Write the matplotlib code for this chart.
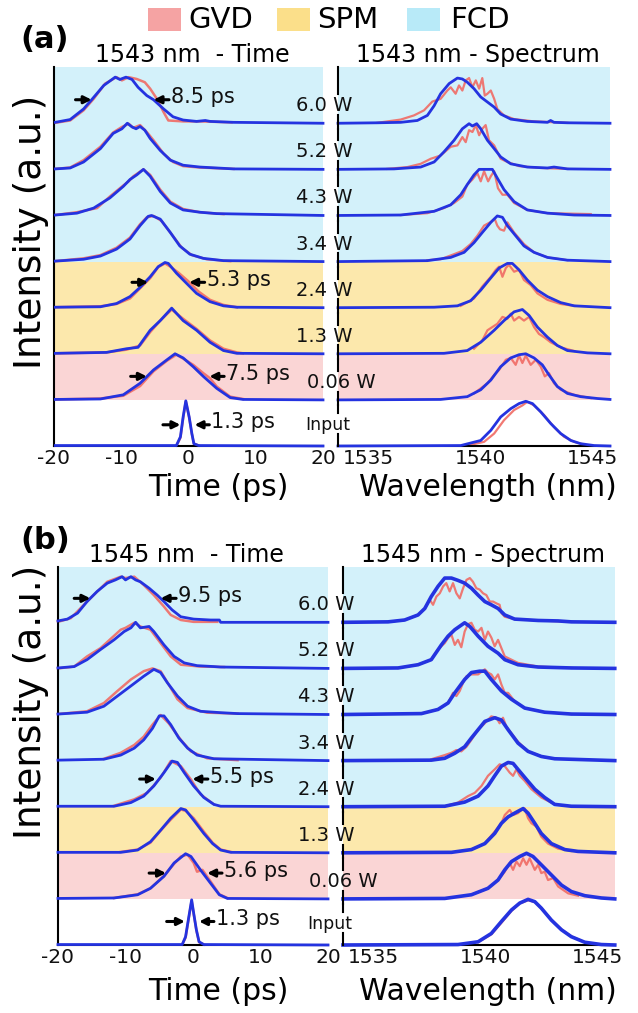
import matplotlib
matplotlib.use("Agg")
import matplotlib.pyplot as plt
from matplotlib.patches import Rectangle

plt.rcParams['font.family'] = ['DejaVu Sans']

W_PX, H_PX = 638, 1013

powers = ["Input", "0.06 W", "1.3 W", "2.4 W", "3.4 W", "4.3 W", "5.2 W", "6.0 W"]
time_ticks = [-20, -10, 0, 10, 20]
time_ticklabels = ["-20", "-10", "0", "10", "20"]
wl_ticks = [1535, 1540, 1545]
legend_labels = ["GVD", "SPM", "FCD"]

# ---------------- (a) 1543 nm, time domain (rows: Input ... 6.0 W) ----------------
a_t_blue_x = [
    [-19.8, -1.8, -1.2, -0.8, -0.4, 0.1, 0.5, 0.8, 1.5, 20],
    [-19.8, -13.1, -9.7, -7.2, -5.2, -3.2, -2.0, -0.8, 0.7, 2.2, 4.2, 6.2, 8.1, 20],
    [-19.8, -12.2, -9.2, -7.5, -5.7, -4.2, -2.5, -0.8, 1.2, 3.2, 5.2, 7.2, 20],
    [-19.8, -13.1, -10.7, -8.7, -7.2, -5.7, -4.5, -3.5, -3.0, -1.8, -0.3, 1.2, 3.2, 5.2, 7.2, 20],
    [-19.8, -15.6, -13.1, -10.7, -8.7, -7.2, -6.0, -5.5, -4.2, -2.7, -1.3, 0.2, 2.2, 5.2, 20],
    [-19.8, -16.6, -14.1, -11.7, -9.7, -8.7, -7.7, -6.7, -5.7, -4.2, -2.7, -0.8, 1.7, 4.2, 20],
    [-19.8, -17.6, -15.6, -13.1, -11.2, -9.9, -9.1, -8.4, -7.8, -7.2, -6.5, -5.7, -4.2, -2.7, -0.8, 1.7, 4.2, 6.7, 20],
    [-19.8, -17.6, -15.6, -14.4, -12.6, -10.9, -10.2, -9.3, -8.4, -7.5, -6.2, -5.2, -3.7, -2.3, -0.8, 1.2, 2.5, 3.2, 6.7, 20],
]
a_t_blue_y = [
    [0.01, 0.01, 0.2, 0.63, 0.98, 0.63, 0.27, 0.05, 0.01, 0],
    [0.01, 0.02, 0.11, 0.36, 0.65, 0.87, 1.0, 0.91, 0.72, 0.51, 0.25, 0.05, 0.01, 0],
    [0.01, 0.03, 0.11, 0.14, 0.51, 0.72, 0.99, 0.72, 0.51, 0.25, 0.07, 0.01, 0],
    [0.01, 0.02, 0.09, 0.24, 0.44, 0.67, 0.89, 0.98, 0.96, 0.75, 0.53, 0.31, 0.13, 0.04, 0.01, 0],
    [0.01, 0.05, 0.12, 0.27, 0.49, 0.78, 0.98, 1.0, 0.92, 0.63, 0.34, 0.16, 0.07, 0.02, 0],
    [0.01, 0.05, 0.16, 0.38, 0.63, 0.78, 0.88, 1.0, 0.85, 0.52, 0.27, 0.12, 0.07, 0.04, 0],
    [0.01, 0.03, 0.16, 0.45, 0.78, 0.88, 1.0, 0.92, 0.88, 0.93, 0.85, 0.67, 0.41, 0.2, 0.09, 0.05, 0.03, 0.01, 0],
    [0.02, 0.08, 0.31, 0.51, 0.82, 1.0, 0.95, 1.0, 0.95, 0.78, 0.6, 0.51, 0.31, 0.14, 0.07, 0.04, 0.06, 0.04, 0.02, 0],
]
a_t_red_x = [
    [-1.8, -1.2, -0.8, -0.4, 0.1, 0.5, 0.8, 1.5],
    [-19.8, -13.1, -9.7, -7.2, -5.2, -3.2, -1.8, -0.5, 0.7, 2.2, 3.2, 4.2, 6.2, 8.1],
    [-19.8, -12.2, -9.2, -7.2, -5.7, -4.2, -2.5, -0.8, 1.2, 3.2, 5.2, 7.2, 8.1],
    [-19.8, -13.1, -10.7, -8.7, -7.2, -5.7, -4.5, -3.5, -2.7, -1.5, 0.0, 1.5, 3.2, 5.2, 7.2],
    [-19.8, -15.6, -13.1, -10.7, -8.7, -7.2, -6.2, -5.2, -4.0, -2.5, -1.0, 0.5, 2.7, 6.2],
    [-19.8, -16.6, -13.6, -11.7, -9.7, -8.9, -8.2, -7.5, -6.7, -5.7, -4.2, -2.7, -0.8, 1.7, 5.2],
    [-19.8, -17.6, -15.6, -13.1, -11.2, -9.9, -8.9, -8.2, -7.2, -6.2, -5.2, -3.7, -2.3, -0.8, 1.7, 6.7],
    [-19.8, -17.6, -15.6, -14.1, -12.4, -10.7, -9.9, -8.9, -7.7, -6.5, -5.7, -4.7, -3.7, -3.0, -0.8, 1.7, 6.4],
]
a_t_red_y = [
    [0.01, 0.18, 0.6, 0.97, 0.62, 0.26, 0.05, 0.01],
    [0.01, 0.03, 0.09, 0.3, 0.62, 0.85, 0.98, 0.87, 0.76, 0.58, 0.47, 0.29, 0.07, 0.02],
    [0.01, 0.03, 0.09, 0.18, 0.47, 0.72, 0.96, 0.76, 0.54, 0.29, 0.11, 0.03, 0.01],
    [0.01, 0.03, 0.08, 0.2, 0.42, 0.64, 0.88, 0.96, 0.89, 0.76, 0.57, 0.35, 0.17, 0.06, 0.01],
    [0.01, 0.07, 0.14, 0.3, 0.52, 0.81, 0.96, 0.99, 0.88, 0.59, 0.3, 0.14, 0.05, 0.01],
    [0.01, 0.07, 0.16, 0.41, 0.65, 0.74, 0.85, 0.92, 1.0, 0.88, 0.56, 0.3, 0.14, 0.07, 0.03],
    [0.01, 0.04, 0.2, 0.49, 0.8, 0.92, 0.99, 0.9, 0.96, 0.81, 0.63, 0.34, 0.16, 0.07, 0.04, 0.01],
    [0.01, 0.06, 0.28, 0.53, 0.86, 1.0, 0.93, 1.0, 0.96, 0.89, 0.75, 0.53, 0.24, 0.06, 0.04, 0.04, 0.02],
]

# ---------------- (a) 1543 nm, spectrum ----------------
a_s_blue_x = [
    [1533.66, 1539.14, 1540.03, 1540.48, 1540.92, 1541.37, 1541.74, 1542.04, 1542.34, 1542.71, 1543.15, 1543.6, 1544.05, 1544.49, 1545.09, 1545.8],
    [1533.66, 1538.24, 1539.43, 1540.03, 1540.48, 1540.92, 1541.37, 1541.74, 1542.04, 1542.41, 1542.78, 1543.08, 1543.45, 1543.9, 1544.49, 1545.24, 1545.8],
    [1533.66, 1538.39, 1539.43, 1540.03, 1540.63, 1541.07, 1541.52, 1541.89, 1542.19, 1542.56, 1543.01, 1543.45, 1543.9, 1544.79, 1545.8],
    [1533.66, 1537.95, 1538.99, 1539.58, 1540.03, 1540.4, 1540.85, 1541.22, 1541.44, 1541.74, 1542.11, 1542.56, 1543.01, 1543.6, 1544.2, 1545.8],
    [1533.66, 1537.65, 1538.69, 1539.29, 1539.73, 1540.1, 1540.48, 1540.77, 1541.0, 1541.22, 1541.59, 1541.96, 1542.41, 1543.01, 1543.9, 1545.8],
    [1533.66, 1536.46, 1537.95, 1538.69, 1539.14, 1539.43, 1539.73, 1539.96, 1540.55, 1540.77, 1541.07, 1541.52, 1542.11, 1543.01, 1544.2, 1545.8],
    [1533.66, 1536.16, 1537.35, 1537.95, 1538.39, 1538.84, 1539.21, 1539.51, 1539.66, 1539.85, 1540.03, 1540.33, 1540.63, 1540.92, 1541.37, 1542.11, 1543.01, 1543.3, 1543.9, 1545.8],
    [1533.66, 1535.42, 1536.46, 1537.2, 1537.65, 1537.95, 1538.24, 1538.62, 1538.99, 1539.21, 1539.43, 1539.73, 1540.03, 1540.33, 1540.63, 1540.92, 1541.37, 1542.11, 1543.01, 1543.15, 1543.3, 1543.9, 1545.8],
]
a_s_blue_y = [
    [0, 0.01, 0.12, 0.34, 0.63, 0.81, 0.92, 0.97, 0.92, 0.74, 0.49, 0.27, 0.12, 0.05, 0.01, 0],
    [0, 0.01, 0.07, 0.22, 0.43, 0.72, 0.91, 0.98, 1.0, 0.91, 0.76, 0.54, 0.29, 0.14, 0.07, 0.03, 0.01],
    [0, 0.01, 0.07, 0.25, 0.51, 0.72, 0.91, 0.96, 0.83, 0.58, 0.36, 0.18, 0.07, 0.02, 0],
    [0, 0.01, 0.04, 0.15, 0.38, 0.6, 0.86, 0.96, 0.96, 0.82, 0.6, 0.38, 0.24, 0.11, 0.04, 0],
    [0, 0.02, 0.09, 0.2, 0.41, 0.63, 0.85, 0.99, 0.96, 0.78, 0.56, 0.34, 0.2, 0.09, 0.03, 0],
    [0, 0.01, 0.09, 0.23, 0.45, 0.67, 0.88, 1.0, 1.0, 0.81, 0.56, 0.3, 0.12, 0.05, 0.01, 0],
    [0, 0.01, 0.05, 0.16, 0.38, 0.63, 0.88, 0.99, 0.94, 0.99, 0.88, 0.63, 0.45, 0.27, 0.12, 0.05, 0.03, 0.05, 0.01, 0],
    [0, 0.01, 0.02, 0.06, 0.17, 0.38, 0.64, 0.86, 0.98, 0.96, 0.89, 0.75, 0.57, 0.46, 0.35, 0.2, 0.09, 0.04, 0.02, 0.06, 0.02, 0.01, 0],
]
a_s_red_x = [
    [1539.43, 1540.18, 1540.63, 1541.07, 1541.52, 1541.89, 1542.11, 1542.41, 1542.86, 1543.3, 1543.75, 1544.2, 1544.79],
    [1539.73, 1540.33, 1540.63, 1540.85, 1541.0, 1541.15, 1541.37, 1541.59, 1541.74, 1541.89, 1542.04, 1542.26, 1542.49, 1542.71, 1542.89, 1543.08, 1543.3, 1543.6, 1544.2, 1544.94],
    [1539.73, 1540.1, 1540.33, 1540.55, 1540.77, 1541.0, 1541.22, 1541.37, 1541.52, 1541.74, 1541.96, 1542.19, 1542.41, 1542.63, 1542.86, 1543.15, 1543.6, 1544.2],
    [1539.14, 1539.73, 1540.1, 1540.48, 1540.7, 1540.85, 1541.0, 1541.15, 1541.29, 1541.52, 1541.74, 1541.96, 1542.26, 1542.56, 1543.01, 1543.6, 1544.2],
    [1537.65, 1538.24, 1538.84, 1539.21, 1539.58, 1539.88, 1540.18, 1540.48, 1540.65, 1540.77, 1540.89, 1541.07, 1541.22, 1541.52, 1541.96, 1542.41, 1543.01, 1543.9],
    [1536.46, 1537.65, 1538.39, 1538.84, 1539.21, 1539.43, 1539.66, 1539.88, 1540.03, 1540.18, 1540.36, 1540.48, 1540.63, 1540.8, 1541.0, 1541.22, 1541.52, 1542.11, 1543.01, 1544.94],
    [1535.86, 1536.76, 1537.35, 1537.8, 1538.24, 1538.69, 1538.99, 1539.21, 1539.36, 1539.51, 1539.66, 1539.81, 1539.96, 1540.1, 1540.25, 1540.4, 1540.63, 1540.92, 1541.22, 1541.74, 1542.71, 1543.9],
    [1535.42, 1536.46, 1537.05, 1537.5, 1537.87, 1538.24, 1538.54, 1538.69, 1538.91, 1539.06, 1539.21, 1539.36, 1539.51, 1539.66, 1539.81, 1539.96, 1540.1, 1540.21, 1540.33, 1540.48, 1540.63, 1540.77, 1541.07, 1541.52, 1542.41, 1543.9],
]
a_s_red_y = [
    [0.01, 0.09, 0.27, 0.56, 0.78, 0.88, 0.96, 0.88, 0.67, 0.41, 0.2, 0.09, 0.01],
    [0.14, 0.36, 0.54, 0.65, 0.76, 0.87, 0.91, 0.76, 0.96, 0.8, 0.96, 0.76, 0.87, 0.72, 0.51, 0.58, 0.36, 0.22, 0.11, 0.04],
    [0.11, 0.29, 0.51, 0.58, 0.65, 0.8, 0.76, 0.87, 0.72, 0.8, 0.72, 0.8, 0.58, 0.43, 0.36, 0.25, 0.14, 0.06],
    [0.04, 0.2, 0.46, 0.67, 0.82, 0.89, 0.67, 0.86, 0.93, 0.78, 0.82, 0.6, 0.49, 0.31, 0.17, 0.08, 0.04],
    [0.03, 0.05, 0.16, 0.23, 0.38, 0.56, 0.78, 0.86, 0.93, 0.78, 0.7, 0.67, 0.85, 0.63, 0.38, 0.2, 0.09, 0.03],
    [0.01, 0.05, 0.16, 0.27, 0.41, 0.67, 0.78, 0.92, 0.74, 0.96, 0.74, 0.85, 0.96, 0.59, 0.45, 0.45, 0.27, 0.12, 0.05, 0.03],
    [0.01, 0.05, 0.12, 0.23, 0.3, 0.49, 0.52, 0.7, 0.59, 0.85, 0.81, 0.96, 0.74, 0.88, 0.96, 0.63, 0.52, 0.23, 0.16, 0.07, 0.03, 0.01],
    [0.01, 0.08, 0.17, 0.28, 0.47, 0.53, 0.71, 0.78, 0.64, 0.82, 0.71, 0.93, 0.98, 0.78, 0.93, 0.75, 0.98, 0.6, 0.64, 0.71, 0.53, 0.31, 0.17, 0.09, 0.04, 0.01],
]

# ---------------- (b) 1545 nm, time domain ----------------
b_t_blue_x = [
    [-20.0, -1.6, -1.1, -0.7, -0.2, 0.1, 0.5, 0.9, 1.6, 20],
    [-20.0, -11.7, -8.2, -6.3, -4.3, -2.8, -1.1, -0.3, 1.1, 2.6, 3.9, 5.1, 20],
    [-20.0, -10.7, -8.2, -6.3, -4.8, -3.3, -1.8, -1.1, 0.1, 1.6, 2.9, 4.1, 5.6, 20],
    [-20.0, -11.7, -9.2, -7.3, -5.8, -4.3, -3.1, -2.3, -1.3, 0.1, 1.6, 3.1, 4.1, 20],
    [-20.0, -13.2, -10.7, -8.7, -7.3, -6.0, -5.0, -4.3, -3.3, -2.1, -0.8, 0.6, 3.1, 20],
    [-20.0, -15.7, -13.2, -11.2, -9.2, -7.3, -5.8, -4.8, -3.8, -2.3, -0.8, 1.1, 4.1, 6.6, 20],
    [-20.0, -17.6, -15.7, -13.7, -11.7, -10.2, -9.2, -8.5, -7.8, -6.5, -5.8, -4.3, -2.8, -1.3, 0.6, 3.1, 4.1, 20],
    [-20.0, -18.6, -17.1, -15.7, -14.2, -12.7, -11.5, -10.5, -10.0, -9.2, -8.5, -7.8, -6.5, -5.3, -4.3, -3.1, -1.8, 0.1, 2.6, 3.9, 4.1, 20],
]
b_t_blue_y = [
    [0.01, 0.01, 0.18, 0.54, 0.98, 0.69, 0.33, 0.07, 0.01, 0],
    [0.01, 0.02, 0.09, 0.23, 0.49, 0.78, 0.98, 0.92, 0.63, 0.34, 0.09, 0.01, 0],
    [0.01, 0.01, 0.06, 0.24, 0.49, 0.75, 0.96, 0.93, 0.71, 0.42, 0.2, 0.06, 0.01, 0],
    [0.01, 0.01, 0.09, 0.23, 0.45, 0.74, 0.99, 0.96, 0.74, 0.45, 0.2, 0.05, 0.01, 0],
    [0.01, 0.03, 0.12, 0.27, 0.45, 0.7, 0.97, 0.97, 0.78, 0.49, 0.27, 0.12, 0.04, 0],
    [0.01, 0.05, 0.18, 0.4, 0.62, 0.83, 0.98, 0.91, 0.69, 0.4, 0.18, 0.07, 0.04, 0.02, 0],
    [0.01, 0.04, 0.19, 0.41, 0.62, 0.8, 0.88, 1.0, 0.88, 0.91, 0.8, 0.51, 0.26, 0.12, 0.06, 0.04, 0.03, 0],
    [0.03, 0.07, 0.2, 0.45, 0.67, 0.85, 0.92, 0.99, 0.92, 0.99, 0.92, 0.88, 0.74, 0.59, 0.45, 0.27, 0.12, 0.07, 0.05, 0.05, 0, 0],
]
b_t_red_x = [
    [-1.6, -1.1, -0.7, -0.2, 0.1, 0.5, 0.9, 1.6],
    [-11.7, -8.2, -6.3, -4.3, -2.8, -1.8, -0.8, 0.1, 0.6, 1.4, 2.6, 3.9, 5.1],
    [-10.7, -8.2, -6.3, -4.8, -3.3, -1.8, -1.1, 0.1, 1.6, 2.9, 4.1, 5.6],
    [-11.7, -8.7, -6.8, -4.8, -3.3, -1.8, -0.3, 1.1, 3.1],
    [-13.2, -10.7, -8.7, -7.3, -6.0, -4.8, -3.6, -1.8, -0.3, 2.1, 6.6],
    [-20.0, -15.7, -13.2, -11.2, -9.2, -7.3, -6.0, -4.8, -3.6, -2.3, -0.8, 2.1, 6.6],
    [-20.0, -17.6, -15.7, -13.7, -10.7, -10.0, -8.7, -7.8, -6.3, -4.8, -3.3, -1.8, 1.1, 4.6],
    [-20.0, -18.1, -15.7, -12.7, -10.7, -10.0, -8.7, -7.3, -5.8, -4.3, -3.3, -1.8, 0.1, 3.6],
]
b_t_red_y = [
    [0.01, 0.16, 0.52, 0.96, 0.68, 0.32, 0.06, 0.01],
    [0.02, 0.1, 0.23, 0.5, 0.76, 0.92, 0.96, 0.78, 0.59, 0.63, 0.38, 0.1, 0.02],
    [0.02, 0.07, 0.22, 0.48, 0.72, 0.94, 0.91, 0.75, 0.46, 0.22, 0.07, 0.02],
    [0.02, 0.16, 0.3, 0.63, 0.99, 0.88, 0.59, 0.27, 0.05],
    [0.04, 0.17, 0.34, 0.52, 0.78, 0.99, 0.81, 0.45, 0.2, 0.05, 0.01],
    [0.01, 0.07, 0.25, 0.51, 0.76, 0.94, 1.0, 0.94, 0.65, 0.33, 0.14, 0.04, 0.02],
    [0, 0.04, 0.26, 0.44, 0.84, 0.88, 0.99, 0.91, 0.84, 0.55, 0.26, 0.08, 0.04, 0.03],
    [0.01, 0.09, 0.45, 0.88, 0.99, 0.96, 0.99, 0.81, 0.59, 0.34, 0.16, 0.05, 0.01, 0.01],
]

# ---------------- (b) 1545 nm, spectrum ----------------
b_s_blue_x = [
    [1533.66, 1538.79, 1539.69, 1540.28, 1540.73, 1541.18, 1541.55, 1541.92, 1542.22, 1542.51, 1542.96, 1543.41, 1543.85, 1544.45, 1545.19, 1545.79],
    [1533.66, 1538.2, 1539.39, 1540.13, 1540.58, 1540.88, 1541.18, 1541.55, 1541.85, 1542.14, 1542.51, 1542.96, 1543.41, 1543.85, 1544.45, 1545.19, 1545.79],
    [1533.66, 1538.5, 1539.39, 1539.99, 1540.43, 1540.73, 1541.03, 1541.32, 1541.7, 1541.92, 1542.22, 1542.51, 1542.96, 1543.56, 1544.15, 1545.79],
    [1533.66, 1538.2, 1539.09, 1539.69, 1540.13, 1540.43, 1540.73, 1541.03, 1541.25, 1541.47, 1541.85, 1542.22, 1542.66, 1543.11, 1543.85, 1545.79],
    [1533.66, 1537.6, 1538.2, 1538.65, 1539.09, 1539.39, 1539.69, 1539.99, 1540.43, 1540.73, 1541.03, 1541.47, 1541.92, 1542.51, 1543.11, 1545.79],
    [1533.66, 1537.16, 1537.9, 1538.35, 1538.65, 1539.09, 1539.39, 1539.76, 1539.99, 1540.28, 1540.73, 1541.18, 1541.77, 1542.66, 1543.85, 1545.79],
    [1533.66, 1536.12, 1537.01, 1537.6, 1538.05, 1538.35, 1538.65, 1539.09, 1539.32, 1539.69, 1540.13, 1540.58, 1540.88, 1541.47, 1542.37, 1543.85, 1545.79],
    [1533.66, 1535.67, 1536.41, 1537.01, 1537.31, 1537.6, 1537.9, 1538.2, 1538.5, 1538.79, 1539.09, 1539.39, 1539.69, 1539.99, 1540.28, 1540.58, 1540.88, 1541.32, 1542.37, 1543.26, 1543.85, 1545.79],
]
b_s_blue_y = [
    [0, 0.01, 0.07, 0.25, 0.51, 0.76, 0.91, 0.99, 0.94, 0.8, 0.54, 0.33, 0.18, 0.06, 0.01, 0],
    [0, 0.01, 0.09, 0.23, 0.41, 0.63, 0.81, 0.92, 0.99, 0.92, 0.74, 0.52, 0.3, 0.16, 0.07, 0.02, 0],
    [0, 0.01, 0.07, 0.2, 0.42, 0.64, 0.78, 0.86, 0.96, 0.86, 0.64, 0.42, 0.2, 0.07, 0.03, 0],
    [0, 0.01, 0.1, 0.23, 0.45, 0.67, 0.88, 0.96, 0.94, 0.81, 0.59, 0.38, 0.2, 0.05, 0.01, 0],
    [0, 0.01, 0.05, 0.16, 0.3, 0.49, 0.67, 0.85, 0.93, 0.88, 0.67, 0.38, 0.2, 0.09, 0.04, 0],
    [0, 0.02, 0.11, 0.25, 0.47, 0.76, 0.91, 0.94, 0.94, 0.76, 0.51, 0.33, 0.14, 0.05, 0.01, 0],
    [0, 0.01, 0.08, 0.19, 0.51, 0.7, 0.84, 0.99, 0.91, 0.7, 0.48, 0.33, 0.19, 0.08, 0.03, 0.01, 0],
    [0, 0.01, 0.05, 0.16, 0.3, 0.56, 0.78, 0.96, 0.96, 0.91, 0.85, 0.74, 0.59, 0.45, 0.38, 0.3, 0.16, 0.07, 0.04, 0.03, 0.01, 0],
]
b_s_red_x = [
    [1539.69, 1540.28, 1540.73, 1541.18, 1541.55, 1541.92, 1542.22, 1542.51, 1542.96, 1543.41, 1543.85, 1544.45],
    [1539.39, 1540.13, 1540.58, 1540.88, 1541.1, 1541.25, 1541.4, 1541.55, 1541.7, 1541.85, 1541.99, 1542.22, 1542.37, 1542.51, 1542.66, 1542.81, 1543.04, 1543.26, 1543.71, 1544.15],
    [1539.39, 1539.99, 1540.43, 1540.73, 1540.88, 1541.1, 1541.25, 1541.47, 1541.62, 1541.77, 1541.92, 1542.07, 1542.29, 1542.51, 1542.81, 1543.26, 1543.85],
    [1538.2, 1538.79, 1539.24, 1539.54, 1539.84, 1540.13, 1540.43, 1540.65, 1540.88, 1541.1, 1541.25, 1541.4, 1541.55, 1541.77, 1542.07, 1542.51, 1543.11],
    [1537.6, 1538.2, 1538.5, 1538.72, 1538.94, 1539.17, 1539.39, 1539.69, 1539.99, 1540.28, 1540.51, 1540.65, 1540.8, 1540.95, 1541.18, 1541.47, 1541.92, 1542.66],
    [1537.16, 1537.9, 1538.35, 1538.57, 1538.72, 1538.87, 1539.02, 1539.17, 1539.39, 1539.69, 1539.99, 1540.13, 1540.28, 1540.43, 1540.58, 1540.73, 1540.88, 1541.03, 1541.32, 1541.77, 1542.66, 1543.85],
    [1536.12, 1537.01, 1537.6, 1537.9, 1538.2, 1538.35, 1538.5, 1538.65, 1538.79, 1538.94, 1539.09, 1539.24, 1539.39, 1539.54, 1539.69, 1539.84, 1539.99, 1540.13, 1540.28, 1540.43, 1540.58, 1540.73, 1540.88, 1541.47, 1542.37, 1543.85],
    [1535.67, 1536.41, 1537.01, 1537.31, 1537.53, 1537.68, 1537.83, 1537.98, 1538.13, 1538.27, 1538.42, 1538.57, 1538.72, 1538.87, 1539.02, 1539.17, 1539.32, 1539.46, 1539.61, 1539.76, 1539.91, 1540.06, 1540.21, 1540.36, 1540.51, 1540.65, 1540.73, 1540.88, 1541.32, 1542.37, 1543.85],
]
b_s_red_y = [
    [0.06, 0.23, 0.48, 0.74, 0.9, 0.97, 0.93, 0.8, 0.55, 0.34, 0.19, 0.06],
    [0.09, 0.23, 0.41, 0.59, 0.78, 0.63, 0.81, 0.71, 0.88, 0.74, 0.88, 0.63, 0.74, 0.56, 0.59, 0.41, 0.45, 0.27, 0.12, 0.07],
    [0.07, 0.2, 0.46, 0.64, 0.82, 0.93, 0.82, 0.86, 0.93, 0.96, 0.75, 0.64, 0.57, 0.35, 0.2, 0.09, 0.04],
    [0.01, 0.09, 0.23, 0.3, 0.45, 0.67, 0.81, 0.92, 0.88, 0.74, 0.67, 0.81, 0.67, 0.56, 0.38, 0.2, 0.05],
    [0.03, 0.12, 0.17, 0.23, 0.2, 0.3, 0.45, 0.67, 0.81, 0.96, 0.93, 0.81, 0.93, 0.74, 0.59, 0.41, 0.2, 0.07],
    [0.02, 0.11, 0.25, 0.47, 0.4, 0.51, 0.69, 0.83, 0.87, 0.87, 0.98, 0.91, 0.87, 0.76, 0.87, 0.65, 0.47, 0.47, 0.29, 0.14, 0.05, 0.01],
    [0.01, 0.08, 0.19, 0.41, 0.55, 0.66, 0.73, 0.51, 0.62, 0.46, 0.8, 0.96, 0.99, 0.84, 0.8, 0.88, 0.62, 0.8, 0.67, 0.48, 0.62, 0.44, 0.26, 0.12, 0.04, 0.01],
    [0.01, 0.05, 0.16, 0.3, 0.49, 0.38, 0.56, 0.63, 0.78, 0.85, 0.67, 0.85, 0.63, 0.52, 0.74, 0.92, 0.96, 0.88, 0.74, 0.71, 0.63, 0.59, 0.45, 0.45, 0.41, 0.38, 0.2, 0.12, 0.07, 0.04, 0.01],
]

# FWHM annotations: row index, label
a_fwhm_rows = [7, 3, 1, 0]
a_fwhm_labels = ["8.5 ps", "5.3 ps", "7.5 ps", "1.3 ps"]
b_fwhm_rows = [7, 3, 1, 0]
b_fwhm_labels = ["9.5 ps", "5.5 ps", "5.6 ps", "1.3 ps"]

# ---------------- styling ----------------
BLUE = "#2433E0"
RED = "#F06B64"
BAND = {"GVD": "#FAD5D5", "SPM": "#FCE8AC", "FCD": "#D3F1FA"}
LEG = {"GVD": "#F5A3A3", "SPM": "#FBDF8A", "FCD": "#B8EAF8"}

fig = plt.figure(figsize=(W_PX / 100, H_PX / 100), dpi=100)


def rect(l, t, r, b):
    return [l / W_PX, 1 - b / H_PX, (r - l) / W_PX, (b - t) / H_PX]


def fx(px):
    return px / W_PX


def fy(py):
    return 1 - py / H_PX


def draw_panel(box_t, box_s, tbx, tby, trx, try_, sbx, sby, srx, sry, bands, ytop,
               fwhm_rows, fwhm_labels, arrows, spec_blue_lw):
    ax_t = fig.add_axes(rect(*box_t))
    ax_s = fig.add_axes(rect(*box_s))
    for ax in (ax_t, ax_s):
        for lo, hi, key in bands:
            ax.axhspan(lo, hi if hi is not None else ytop, color=BAND[key], lw=0, zorder=0)
        ax.set_ylim(0, ytop)
        ax.set_yticks([])
        ax.tick_params(axis="x", length=0, pad=2, labelsize=14.5, colors="#111111")
        for s in ("top", "right"):
            ax.spines[s].set_visible(False)
        ax.spines["bottom"].set_linewidth(1.5)
    ax_t.spines["left"].set_linewidth(1.5)
    ax_s.spines["left"].set_visible(False)
    ax_t.set_xlim(-20, 20)
    ax_t.set_xticks(time_ticks)
    ax_t.set_xticklabels(time_ticklabels)
    ax_s.set_xlim(1533.66, 1545.8)
    ax_s.set_xticks(wl_ticks)
    ax_s.set_xticklabels([str(v) for v in wl_ticks])

    for i in range(len(powers)):
        ax_t.plot(trx[i], [v + i for v in try_[i]], color=RED, lw=1.8, alpha=0.9, zorder=2, clip_on=False)
        ax_t.plot(tbx[i], [v + i for v in tby[i]], color=BLUE, lw=2.0, zorder=3, clip_on=False,
                  solid_joinstyle="round")
        ax_s.plot(srx[i], [v + i for v in sry[i]], color=RED, lw=1.6, alpha=0.9, zorder=2, clip_on=False)
        ax_s.plot(sbx[i], [v + i for v in sby[i]], color=BLUE, lw=spec_blue_lw, zorder=3, clip_on=False,
                  solid_joinstyle="round")

    # broken left axis of the spectrum plot, interrupted by the power labels
    x0 = 1533.66
    for i in range(len(powers)):
        lab = 0.46 if i == 0 else 0.38
        lo = i - 0.12 if i > 0 else 0
        hi = i + lab - 0.2
        ax_s.plot([x0, x0], [lo, hi], color="k", lw=1.5, zorder=4, clip_on=False)
        if i == len(powers) - 1:
            ax_s.plot([x0, x0], [i + lab + 0.25, ytop], color="k", lw=1.5, zorder=4, clip_on=False)
        else:
            ax_s.plot([x0, x0], [i + lab + 0.25, i + 1 - 0.12], color="k", lw=1.5, zorder=4, clip_on=False)

    # FWHM arrows
    for row, lab, (l0, l1, r0, r1, hy) in zip(fwhm_rows, fwhm_labels, arrows):
        y = row + hy
        ax_t.annotate("", xy=(l1, y), xytext=(l0, y),
                      arrowprops=dict(arrowstyle="-|>", color="k", lw=2.2, mutation_scale=11,
                                      shrinkA=0, shrinkB=0), zorder=5)
        ax_t.annotate("", xy=(r1, y), xytext=(r0, y),
                      arrowprops=dict(arrowstyle="-|>", color="k", lw=2.2, mutation_scale=11,
                                      shrinkA=0, shrinkB=0), zorder=5)
        ax_t.text(r0 + 0.3, y + 0.05, lab, fontsize=15, va="center", ha="left", color="#111111", zorder=5)
    return ax_t, ax_s


a_arrows = [(-16.8, -14.4, -2.9, -5.2, 0.51),
            (-8.4, -6.0, 2.4, 0.1, 0.55),
            (-8.6, -6.2, 5.3, 3.1, 0.51),
            (-3.8, -1.2, 3.1, 0.9, 0.46)]
b_arrows = [(-17.6, -15.2, -2.5, -4.8, 0.52),
            (-7.9, -5.5, 2.2, -0.1, 0.6),
            (-6.5, -4.0, 4.3, 2.1, 0.56),
            (-3.9, -1.2, 3.1, 0.9, 0.51)]

a_bands = [(1, 2, "GVD"), (2, 4, "SPM"), (4, None, "FCD")]
b_bands = [(1, 2, "GVD"), (2, 3, "SPM"), (3, None, "FCD")]

draw_panel((54, 67, 323, 446), (338, 67, 610, 446),
           a_t_blue_x, a_t_blue_y, a_t_red_x, a_t_red_y,
           a_s_blue_x, a_s_blue_y, a_s_red_x, a_s_red_y,
           a_bands, 8.22, a_fwhm_rows, a_fwhm_labels, a_arrows, 2.0)
draw_panel((58, 567, 328, 945), (343, 567, 615, 945),
           b_t_blue_x, b_t_blue_y, b_t_red_x, b_t_red_y,
           b_s_blue_x, b_s_blue_y, b_s_red_x, b_s_red_y,
           b_bands, 8.2, b_fwhm_rows, b_fwhm_labels, b_arrows, 2.6)

# power labels (figure coordinates)
row_px = 46.1
for base_bottom, lx in ((446, 296), (945, 298)):
    for i, p in enumerate(powers):
        off = 0.46 if i == 0 else 0.38
        yc = base_bottom - (i + off) * row_px
        x = lx + (9 if i == 0 else (11 if i == 1 else 0))
        fig.text(fx(x), fy(yc), p, fontsize=12.5 if i == 0 else 14, ha="left", va="center",
                 color="#111111")

# panel letters
fig.text(fx(20), fy(40), "(a)", fontsize=22, fontweight="bold", ha="left", va="center")
fig.text(fx(20), fy(540), "(b)", fontsize=22, fontweight="bold", ha="left", va="center")

# titles
fig.text(fx(192), fy(55), "1543 nm  - Time", fontsize=17, ha="center", va="center")
fig.text(fx(478), fy(55), "1543 nm - Spectrum", fontsize=17, ha="center", va="center")
fig.text(fx(186), fy(555), "1545 nm  - Time", fontsize=17, ha="center", va="center")
fig.text(fx(483), fy(555), "1545 nm - Spectrum", fontsize=17, ha="center", va="center")

# axis labels
for yy in (487, 991):
    fig.text(fx(218), fy(yy), "Time (ps)", fontsize=21.5, ha="center", va="center")
    fig.text(fx(488), fy(yy), "Wavelength (nm)", fontsize=21.5, ha="center", va="center")
fig.text(fx(31), fy(232), "Intensity (a.u.)", fontsize=27, rotation=90, ha="center", va="center")
fig.text(fx(31), fy(702), "Intensity (a.u.)", fontsize=27, rotation=90, ha="center", va="center")

# legend
for key, px0, tx in (("GVD", 148, 188), ("SPM", 277, 317), ("FCD", 407, 450)):
    fig.add_artist(Rectangle((fx(px0), fy(31)), 33 / W_PX, 23 / H_PX, transform=fig.transFigure,
                             facecolor=LEG[key], edgecolor="none"))
    fig.text(fx(tx), fy(20), key, fontsize=21, ha="left", va="center")

fig.savefig("out.png", dpi=100)
